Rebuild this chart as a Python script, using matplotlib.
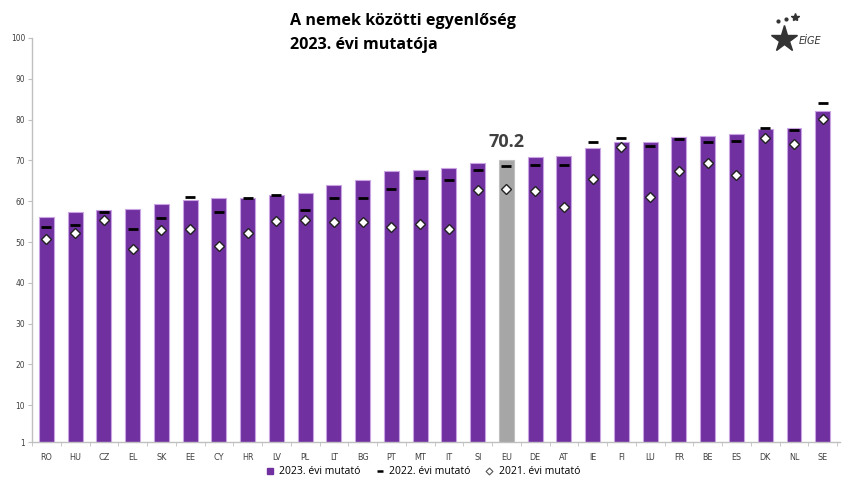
import numpy as np
import matplotlib
matplotlib.use('Agg')
import matplotlib.pyplot as plt
from matplotlib.lines import Line2D

# --- data ---
countries = ['RO', 'HU', 'CZ', 'EL', 'SK', 'EE', 'CY', 'HR', 'LV', 'PL', 'LT', 'BG', 'PT', 'MT',
             'IT', 'SI', 'EU', 'DE', 'AT', 'IE', 'FI', 'LU', 'FR', 'BE', 'ES', 'DK', 'NL', 'SE']
idx_2023 = [56.1, 57.3, 57.9, 58.0, 59.2, 60.2, 60.7, 60.7, 61.5, 61.9, 64.1, 65.1, 67.4, 67.7,
            68.2, 69.4, 70.2, 70.8, 71.1, 73.1, 74.4, 74.6, 75.7, 76.0, 76.4, 77.8, 77.9, 82.2]
idx_2022 = [53.7, 54.2, 57.3, 53.3, 56.0, 61.0, 57.3, 60.7, 61.5, 57.8, 60.7, 60.8, 63.0, 65.6,
            65.1, 67.6, 68.6, 68.9, 68.9, 74.4, 75.6, 73.6, 75.2, 74.4, 74.7, 77.9, 77.4, 84.1]
idx_2021 = [50.8, 52.3, 55.5, 48.4, 52.9, 53.2, 49.0, 52.1, 55.2, 55.4, 54.9, 54.9, 53.6, 54.3,
            53.3, 62.7, 63.1, 62.6, 58.6, 65.4, 73.2, 61.1, 67.5, 69.4, 66.4, 75.4, 74.1, 80.1]
yticks = [1, 10, 20, 30, 40, 50, 60, 70, 80, 90, 100]

purple = '#7030A0'
grey_bar = '#A6A6A6'
txt = '#404040'
narrow = ['Liberation Sans Narrow', 'DejaVu Sans']

fig = plt.figure(figsize=(8.44, 4.79), dpi=100)
ax = fig.add_axes([32 / 844, 1 - 442 / 479, 808 / 844, 404 / 479])

x = np.arange(len(countries))
colors = [grey_bar if c == 'EU' else purple for c in countries]
edges = ['#BFBFBF' if c == 'EU' else '#C9A3E3' for c in countries]
ax.bar(x, idx_2023, width=0.52, color=colors, edgecolor=edges, linewidth=0.8, zorder=2)
ax.plot(x, idx_2022, linestyle='none', marker='_', markersize=7.5, markeredgewidth=2,
        color='black', zorder=3)
ax.plot(x, idx_2021, linestyle='none', marker='D', markersize=5, markerfacecolor='white',
        markeredgecolor='#222222', markeredgewidth=1.0, zorder=4)

eu = countries.index('EU')
ax.text(eu, idx_2023[eu] + 2.0, '%.1f' % idx_2023[eu], ha='center', va='bottom',
        fontsize=13, fontweight='bold', color=txt, family=['Open Sans', 'DejaVu Sans'])

ax.set_xlim(-0.42, len(countries) - 0.4)
ax.set_ylim(1, 100)
ax.set_yticks(yticks)
ax.set_yticklabels([str(v) for v in yticks], fontsize=6, color=txt, family=narrow,
                   fontstretch='condensed')
ax.set_xticks(x)
ax.set_xticklabels(countries, fontsize=6.5, color=txt, family=narrow, fontstretch='condensed')
ax.set_xticks(np.arange(len(countries) + 1) - 0.5, minor=True)
ax.tick_params(axis='x', which='major', length=0, pad=8)
ax.tick_params(axis='x', which='minor', length=3, color='#BFBFBF', direction='out')
ax.tick_params(axis='y', length=3, color='#BFBFBF', pad=2)
for s in ['top', 'right']:
    ax.spines[s].set_visible(False)
for s in ['left', 'bottom']:
    ax.spines[s].set_color('#BFBFBF')
    ax.spines[s].set_linewidth(1.0)

# title
fig.text(290 / 844, 1 - 33 / 479, 'A nemek közötti egyenlőség\n2023. évi mutatója',
         ha='left', va='center', fontsize=11.6, fontweight='bold', color='black',
         family=['Open Sans', 'DejaVu Sans'], linespacing=1.6)

# logo (approximation)
lax = fig.add_axes([760 / 844, 1 - 62 / 479, 80 / 844, 55 / 479])
lax.set_xlim(0, 1)
lax.set_ylim(0, 1)
lax.axis('off')
lax.plot([0.22, 0.32], [0.74, 0.78], linestyle='none', marker='o', markersize=2, color='#333333')
lax.plot([0.44], [0.82], marker='*', markersize=6, color='#333333')
lax.plot([0.3], [0.42], marker='*', markersize=20, color='#333333')
lax.text(0.48, 0.38, 'EİGE', fontsize=7, style='italic', color='#333333', va='center',
         family=narrow)

# legend
handles = [
    Line2D([], [], linestyle='none', marker='s', markersize=4.5, color=purple),
    Line2D([], [], linestyle='none', marker='_', markersize=5, markeredgewidth=1.8, color='black'),
    Line2D([], [], linestyle='none', marker='D', markersize=3.5, markerfacecolor='white',
           markeredgecolor='#555555', markeredgewidth=0.8),
]
labels = ['2023. évi mutató', '2022. évi mutató', '2021. évi mutató']
fig.legend(handles, labels, loc='center', bbox_to_anchor=(423 / 844, 1 - 472 / 479), ncol=3,
           frameon=False, handlelength=0.8, handletextpad=0.5, columnspacing=1.4,
           prop={'family': ['Open Sans', 'DejaVu Sans'], 'size': 7.5})

fig.savefig('out.png', dpi=100)
